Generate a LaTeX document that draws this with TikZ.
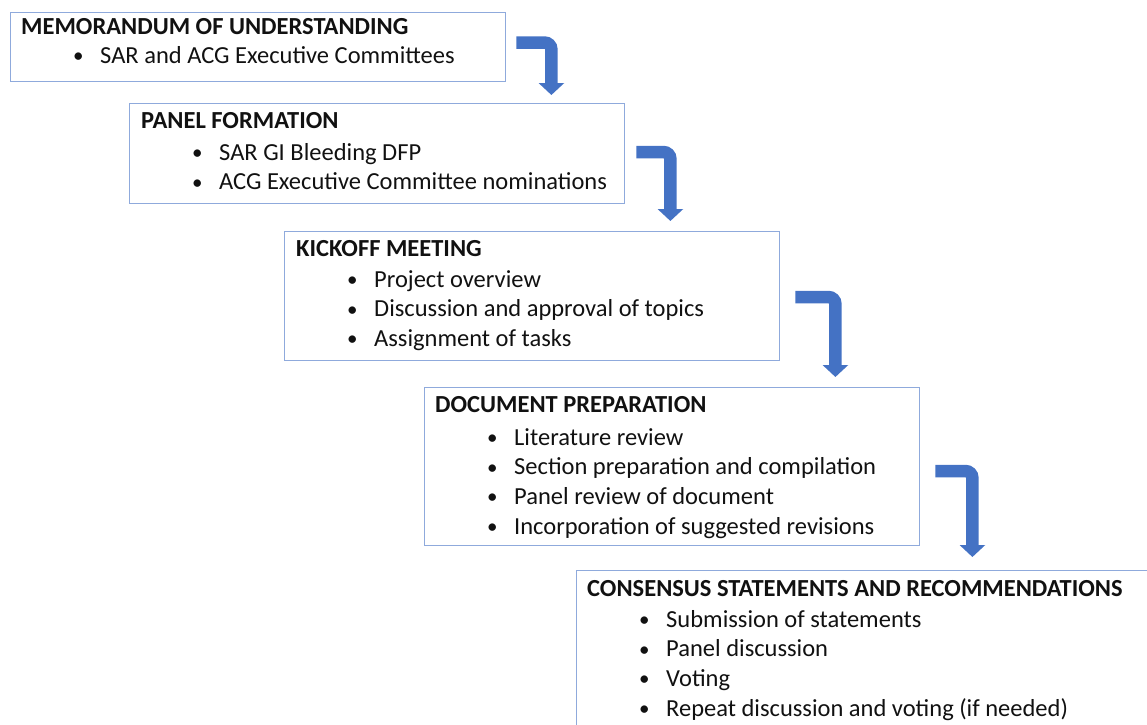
\documentclass[tikz,border=0pt]{standalone}
\usepackage{fontspec}
\setmainfont{Carlito}
\usetikzlibrary{arrows.meta,calc}
\definecolor{stageedge}{HTML}{8FAADC}
\definecolor{flowarrow}{HTML}{4472C4}
\definecolor{stagetext}{HTML}{111111}
\newcommand\bul{\makebox[27pt][l]{\fontsize{21}{21}\selectfont\raisebox{0.5pt}{\textbullet}}}

\begin{document}
\begin{tikzpicture}[
  x=1pt,
  y=-1pt,
  font=\fontsize{24.5}{29}\selectfont,
  text=stagetext,
  stage/.style={draw=stageedge,line width=1.4pt,minimum width=495pt,anchor=north west,inner sep=0pt},
  head/.style={anchor=base west,inner sep=0pt,font=\fontsize{24.5}{29}\selectfont\bfseries},
  item/.style={anchor=base west,inner sep=0pt},
  turn/.style={draw=flowarrow,line width=12.5pt,rounded corners=7pt,-{Triangle[width=25pt,length=12pt]}}
]
  \clip (0,0) rectangle (1147,724);

  % Stage boxes, stepping down and to the right.
  \node[stage,minimum height=69pt] (m1) at (10,12) {};
  \node[stage,minimum height=100pt] (m2) at (129,103) {};
  \node[stage,minimum height=129pt] (m3) at (284,231) {};
  \node[stage,minimum height=158pt] (m4) at (424,387) {};
  \node[stage,minimum width=640pt,minimum height=190pt] (m5) at (576,570) {};

  % Headings.
  \node[head] (m1h) at ($(m1.north west)+(11,22)$) {MEMORANDUM OF UNDERSTANDING};
  \node[head] (m2h) at ($(m2.north west)+(12,25)$) {PANEL FORMATION};
  \node[head] (m3h) at ($(m3.north west)+(12,25)$) {KICKOFF MEETING};
  \node[head] (m4h) at ($(m4.north west)+(11,25)$) {DOCUMENT PREPARATION};
  \node[head] (m5h) at ($(m5.north west)+(11,26)$) {CONSENSUS STATEMENTS AND RECOMMENDATIONS};

  % Bullet lines, one baseline every 29.7pt.
  \node[item] (m1-1) at ($(m1.north west)+(63,51)$) {\bul SAR and ACG Executive Committees};
  \foreach \t [count=\k] in {SAR GI Bleeding DFP, ACG Executive Committee nominations}
    \node[item] (m2-\k) at ($(m2.north west)+(63,27.3+29.7*\k)$) {\bul\t};
  \foreach \t [count=\k] in {Project overview, Discussion and approval of topics, Assignment of tasks}
    \node[item] (m3-\k) at ($(m3.north west)+(63,26.3+29.7*\k)$) {\bul\t};
  \foreach \t [count=\k] in {Literature review, Section preparation and compilation,
      Panel review of document, Incorporation of suggested revisions}
    \node[item] (m4-\k) at ($(m4.north west)+(63,28.3+29.7*\k)$) {\bul\t};
  \foreach \t [count=\k] in {Submission of statements, Panel discussion, Voting,
      Repeat discussion and voting (if needed)}
    \node[item] (m5-\k) at ($(m5.north west)+(63,27.3+29.7*\k)$) {\bul\t};

  % Bent arrows from each box to the next one.
  \foreach \i/\j/\dx/\dy/\run/\gap in {1/2/10/30.5/35/8, 2/3/11/49/34/10,
      3/4/15/66/40/10, 4/5/15/84/37/13} {
    \coordinate (a\i) at ($(m\i.north east)+(\dx,\dy)$);
    \coordinate (b\i) at ($(a\i)+(\run,0)$);
    \draw[turn] (a\i) -| ($(b\i |- m\j.north)+(0,-\gap)$);
  }
\end{tikzpicture}
\end{document}
